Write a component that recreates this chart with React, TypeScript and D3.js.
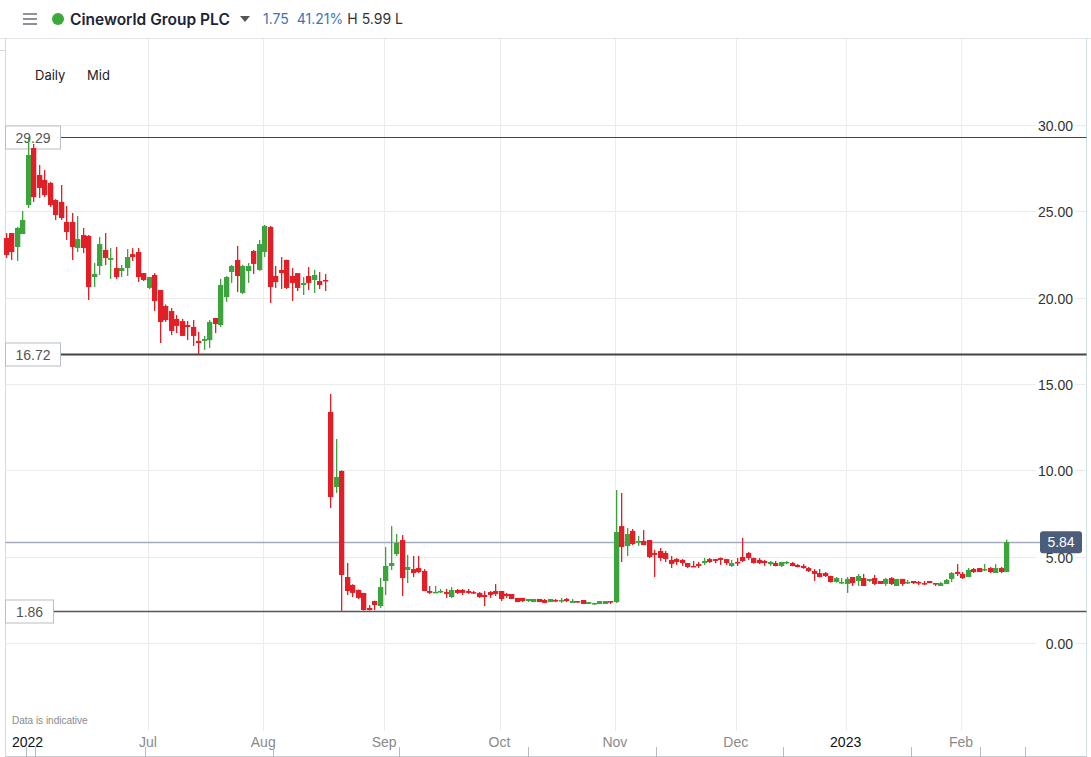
import * as d3 from "d3";

// daily OHLC, index 0 = early June 2022, last = 13 Feb 2023
const opens = [
  23.45, 23.74, 22.93, 23.68, 25.36, 28.66, 27.10, 26.81, 26.64, 25.65,
  25.54, 24.38, 24.38, 22.87, 23.62, 23.57, 21.19, 21.83, 22.76, 22.18,
  21.71, 21.54, 21.71, 22.52, 22.64, 21.42, 20.56, 21.31, 20.44, 19.51,
  19.22, 18.76, 18.64, 18.41, 18.30, 17.49, 17.49, 17.54, 18.82, 18.41,
  20.03, 21.48, 22.18, 20.27, 21.54, 22.70, 21.60, 22.64, 24.09, 21.25,
  21.60, 22.18, 21.25, 21.42, 20.73, 21.25, 21.02, 20.96, 21.02, 13.38,
  9.03, 9.96, 3.82, 3.36, 3.07, 2.90, 2.03, 2.43, 2.14, 3.59,
  4.46, 5.15, 5.96, 4.23, 4.28, 4.34, 4.17, 3.01, 2.93, 2.95,
  2.95, 2.66, 3.07, 3.07, 3.01, 2.95, 2.90, 2.78, 2.95, 3.01,
  3.01, 2.84, 2.84, 2.61, 2.61, 2.43, 2.37, 2.55, 2.49, 2.37,
  2.49, 2.43, 2.55, 2.32, 2.43, 2.49, 2.26, 2.26, 2.26, 2.26,
  2.43, 2.37, 6.77, 5.62, 6.49, 5.85, 5.91, 5.96, 5.21, 5.33,
  5.21, 4.81, 4.86, 4.81, 4.63, 4.46, 4.57, 4.63, 4.86, 4.86,
  4.92, 4.86, 4.46, 4.69, 4.98, 5.21, 4.92, 4.81, 4.75, 4.57,
  4.63, 4.46, 4.63, 4.63, 4.52, 4.46, 4.34, 4.17, 4.05, 4.05,
  3.88, 3.53, 3.47, 3.42, 3.82, 3.59, 3.76, 3.59, 3.76, 3.59,
  3.42, 3.76, 3.30, 3.71, 3.47, 3.59, 3.53, 3.47, 3.59, 3.47,
  3.30, 3.42, 3.71, 4.11, 4.00, 3.82, 4.28, 4.34, 4.23, 4.34,
  4.05, 4.34, 4.11,
];
const highs = [
  23.74, 23.74, 24.09, 25.01, 29.29, 28.90, 27.68, 27.39, 26.70, 25.70,
  26.52, 25.30, 24.90, 24.72, 24.03, 23.62, 22.00, 23.51, 23.74, 22.87,
  22.93, 21.89, 22.81, 22.87, 22.87, 21.42, 21.20, 21.42, 20.44, 19.60,
  19.40, 18.99, 18.76, 18.64, 18.70, 18.01, 17.78, 18.70, 18.82, 21.08,
  21.25, 21.89, 22.99, 21.90, 22.00, 22.75, 23.34, 24.20, 24.15, 21.83,
  22.35, 22.20, 21.71, 21.42, 21.19, 21.77, 21.60, 21.48, 21.37, 14.42,
  11.81, 10.00, 4.63, 3.40, 3.10, 2.90, 2.20, 2.45, 3.76, 5.56,
  6.77, 6.31, 6.25, 5.10, 5.04, 5.04, 4.28, 3.30, 3.30, 3.13,
  3.13, 3.24, 3.13, 3.13, 3.13, 3.01, 2.95, 3.01, 3.01, 3.42,
  3.01, 2.90, 2.84, 2.61, 2.61, 2.55, 2.55, 2.55, 2.55, 2.55,
  2.55, 2.61, 2.61, 2.55, 2.43, 2.49, 2.37, 2.32, 2.43, 2.43,
  2.43, 8.86, 8.69, 6.66, 6.60, 6.20, 6.54, 5.96, 5.39, 5.50,
  5.33, 5.04, 4.92, 4.86, 4.63, 4.75, 4.69, 4.92, 4.92, 4.86,
  4.95, 4.86, 4.81, 4.92, 6.08, 5.27, 4.95, 4.92, 4.81, 4.75,
  4.75, 4.70, 4.75, 4.69, 4.57, 4.57, 4.40, 4.28, 4.28, 4.11,
  3.90, 3.82, 3.76, 3.82, 3.82, 4.00, 4.00, 3.71, 3.94, 3.59,
  3.76, 3.82, 3.71, 3.71, 3.65, 3.59, 3.59, 3.59, 3.59, 3.47,
  3.53, 3.71, 4.11, 4.57, 4.11, 4.34, 4.34, 4.34, 4.57, 4.40,
  4.57, 4.40, 5.99,
];
const lows = [
  22.29, 22.18, 22.12, 23.68, 25.19, 25.54, 25.77, 25.82, 25.25, 24.49,
  24.49, 23.34, 22.18, 22.64, 22.58, 19.86, 20.61, 21.31, 21.89, 21.08,
  21.08, 21.19, 21.25, 22.12, 20.90, 20.96, 20.50, 19.22, 17.37, 18.60,
  17.83, 17.95, 17.78, 17.54, 17.20, 16.72, 16.97, 17.08, 17.95, 18.30,
  19.75, 20.85, 20.32, 20.20, 20.85, 21.37, 21.55, 22.35, 19.69, 20.56,
  20.50, 20.50, 19.80, 20.38, 20.15, 20.44, 20.27, 20.50, 20.38, 7.82,
  8.69, 1.86, 2.78, 2.66, 2.55, 1.88, 1.88, 1.90, 2.03, 2.78,
  4.23, 5.04, 2.72, 3.47, 3.82, 4.05, 3.00, 2.84, 2.90, 2.90,
  2.61, 2.61, 2.84, 2.78, 2.84, 2.84, 2.61, 2.14, 2.61, 2.72,
  2.43, 2.61, 2.55, 2.37, 2.37, 2.37, 2.37, 2.37, 2.32, 2.37,
  2.37, 2.32, 2.37, 2.32, 2.32, 2.26, 2.26, 2.20, 2.26, 2.26,
  2.26, 2.32, 4.69, 5.04, 5.67, 5.62, 5.67, 4.92, 3.82, 4.75,
  4.69, 4.34, 4.52, 4.46, 4.34, 4.40, 4.34, 4.52, 4.63, 4.63,
  4.52, 4.52, 4.40, 4.46, 4.69, 4.81, 4.60, 4.57, 4.46, 4.46,
  4.44, 4.40, 4.57, 4.44, 4.38, 4.30, 4.11, 3.59, 3.80, 3.82,
  3.50, 3.50, 3.42, 2.90, 3.30, 3.30, 3.30, 3.53, 3.36, 3.42,
  3.30, 3.36, 3.30, 3.30, 3.42, 3.42, 3.36, 3.36, 3.47, 3.30,
  3.30, 3.42, 3.53, 3.88, 3.71, 3.82, 4.05, 4.11, 4.17, 4.05,
  4.05, 4.05, 4.11,
];
const closes = [
  22.47, 22.64, 24.03, 24.49, 28.26, 25.82, 26.35, 25.94, 25.36, 24.78,
  24.61, 23.80, 22.93, 23.39, 22.87, 20.61, 21.37, 23.10, 22.29, 22.29,
  21.19, 21.71, 22.35, 22.35, 21.19, 21.02, 21.19, 19.80, 18.59, 18.70,
  18.07, 18.36, 17.78, 18.30, 17.78, 17.37, 17.60, 18.59, 18.47, 20.73,
  21.19, 21.83, 21.25, 21.83, 21.83, 21.95, 23.10, 24.15, 20.61, 20.90,
  21.42, 20.56, 20.85, 20.56, 20.85, 20.85, 21.31, 20.73, 20.96, 8.45,
  9.61, 3.94, 3.01, 2.90, 2.61, 1.91, 1.91, 2.20, 3.24, 4.46,
  4.63, 5.79, 3.76, 4.40, 4.05, 4.11, 3.01, 2.90, 2.96, 3.01,
  2.84, 3.07, 2.90, 2.90, 2.90, 2.90, 2.66, 2.66, 2.78, 2.84,
  2.55, 2.72, 2.55, 2.37, 2.43, 2.55, 2.55, 2.37, 2.32, 2.55,
  2.43, 2.49, 2.43, 2.43, 2.37, 2.26, 2.37, 2.32, 2.43, 2.43,
  2.37, 6.43, 5.56, 6.31, 5.73, 5.91, 5.67, 4.98, 5.10, 4.92,
  4.86, 4.57, 4.69, 4.63, 4.40, 4.40, 4.46, 4.75, 4.69, 4.75,
  4.81, 4.63, 4.63, 4.63, 4.75, 4.92, 4.63, 4.63, 4.63, 4.69,
  4.46, 4.69, 4.69, 4.46, 4.40, 4.34, 4.17, 4.00, 3.82, 3.88,
  3.53, 3.76, 3.53, 3.71, 3.47, 3.88, 3.30, 3.71, 3.42, 3.42,
  3.71, 3.42, 3.71, 3.42, 3.53, 3.47, 3.50, 3.42, 3.47, 3.42,
  3.47, 3.65, 4.05, 4.00, 3.76, 4.23, 4.11, 4.11, 4.28, 4.11,
  4.34, 4.11, 5.84,
];

const monthLabels = ["Jul", "Aug", "Sep", "Oct", "Nov", "Dec", "2023", "Feb"];
const monthIndex = [26, 47, 69, 90, 111, 133, 153, 174];
const yTicks = [0, 5, 10, 15, 20, 25, 30];
const refLevels = [29.29, 16.72, 1.86];
const lastPrice = 5.84;

const UP = "#3da33d";
const DOWN = "#e21f26";
const AXIS_FONT = "'Liberation Sans', Arial, sans-serif";
const UI_FONT = "Inter, 'Open Sans', sans-serif";

export default function App() {
  const width = 1091;
  const height = 757;
  const left = 5.5;
  const right = 1086.5;

  const x = d3.scaleLinear().domain([0, opens.length - 1]).range([6, 1006]);
  const y = d3.scaleLinear().domain([0, 30]).range([643, 124.9]);

  const refStyle = [
    { boxW: 55, stroke: "#444", sw: 1 },
    { boxW: 55, stroke: "#444", sw: 2 },
    { boxW: 48, stroke: "#555", sw: 1.5 },
  ];

  return (
    <svg
      width={width}
      height={height}
      style={{ position: "absolute", left: 0, top: 0, background: "#fff" }}
    >
      {/* header */}
      <line x1={0} x2={width} y1={38.5} y2={38.5} stroke="#e1e5ea" />
      {[14, 19, 24].map((yy) => (
        <line key={yy} x1={23} x2={37} y1={yy} y2={yy} stroke="#6b6b78" strokeWidth={1.5} />
      ))}
      <circle cx={58} cy={19} r={6} fill="#3aa83a" />
      <text x={70} y={25} fontFamily={UI_FONT} fontWeight={600} fontSize={15.5} fill="#1d2433">
        Cineworld Group PLC
      </text>
      <path d="M240,16 L250,16 L245,22 Z" fill="#555" />
      <text x={263} y={24} fontFamily={UI_FONT} fontSize={14} fill="#3c76b6">
        1.75
        <tspan dx={8}>41.21%</tspan>
        <tspan dx={4} fill="#333">H 5.99 L</tspan>
      </text>

      {/* frame */}
      <line x1={left} x2={left} y1={38} y2={height} stroke="#d4d9de" />
      <line x1={0} x2={left} y1={50.5} y2={50.5} stroke="#d4d9de" />
      <line x1={right} x2={right} y1={38} y2={height} stroke="#cfe1e1" />

      <text x={35} y={80} fontFamily={UI_FONT} fontSize={13} fill="#222">Daily</text>
      <text x={87} y={80} fontFamily={UI_FONT} fontSize={13} fill="#222">Mid</text>

      {/* vertical grid */}
      {monthIndex.map((m) => (
        <line key={m} x1={Math.round(x(m)) - 1 + 0.5} x2={Math.round(x(m)) - 1 + 0.5} y1={39} y2={731} stroke="#ececec" />
      ))}

      {/* horizontal grid + right axis */}
      {yTicks.map((t) => {
        const yy = Math.round(y(t)) + 0.5;
        return (
          <g key={t}>
            <line x1={left} x2={right} y1={yy} y2={yy} stroke="#ebebeb" />
            <rect x={1036} y={yy - 9} width={39} height={18} fill="#fff" />
            <text x={1073} y={yy + 5} textAnchor="end" fontFamily={AXIS_FONT} fontSize={14} fill="#333">
              {t.toFixed(2)}
            </text>
          </g>
        );
      })}

      {/* reference levels */}
      {refLevels.map((v, i) => {
        const yy = Math.round(y(v)) + 0.5;
        const s = refStyle[i];
        return (
          <g key={v}>
            <line x1={left + s.boxW} x2={right} y1={yy} y2={yy} stroke={s.stroke} strokeWidth={s.sw} />
            <rect x={left} y={yy - 11.5} width={s.boxW} height={23} fill="#fff" stroke="#b9bdc5" />
            <text x={left + s.boxW / 2} y={yy + 5} textAnchor="middle" fontFamily={AXIS_FONT} fontSize={14} fill="#555">
              {v.toFixed(2)}
            </text>
          </g>
        );
      })}

      {/* last price line */}
      <line x1={left} x2={1040} y1={Math.round(y(lastPrice)) + 0.5} y2={Math.round(y(lastPrice)) + 0.5} stroke="#a3aabb" strokeWidth={1.5} />

      {/* candles */}
      {opens.map((o, i) => {
        const c = closes[i];
        const cx = Math.round(x(i));
        const color = c >= o ? UP : DOWN;
        const top = y(Math.max(o, c));
        const h = Math.max(1.5, Math.abs(y(o) - y(c)));
        return (
          <g key={i}>
            <rect x={cx} y={y(highs[i])} width={1.3} height={y(lows[i]) - y(highs[i])} fill={color} />
            <rect x={cx - 2} y={top} width={5.3} height={h} fill={color} />
          </g>
        );
      })}

      {/* last price label */}
      <rect x={1040} y={y(lastPrice) - 11} width={42} height={22} rx={3} fill="#4b5d7a" />
      <text x={1061} y={y(lastPrice) + 5} textAnchor="middle" fontFamily={AXIS_FONT} fontSize={14} fill="#fff">
        {lastPrice.toFixed(2)}
      </text>

      {/* x axis */}
      <text x={12} y={724} fontFamily={AXIS_FONT} fontSize={10} fill="#8a8a8a">Data is indicative</text>
      <text x={12} y={747} fontFamily={AXIS_FONT} fontSize={14} fill="#111">2022</text>
      {monthLabels.map((lab, i) => (
        <text
          key={lab}
          x={x(monthIndex[i]) - 1}
          y={747}
          textAnchor="middle"
          fontFamily={AXIS_FONT}
          fontSize={14}
          fill={/^\d/.test(lab) ? "#111" : "#8a8a8a"}
        >
          {lab}
        </text>
      ))}

      {/* navigator strip */}
      <line x1={left} x2={right} y1={756.5} y2={756.5} stroke="#c6cad3" />
      {[26, 35, 145, 273, 399, 528, 656, 783, 911, 980, 1025].map((tx) => (
        <line key={tx} x1={tx + 0.5} x2={tx + 0.5} y1={747} y2={757} stroke="#b5bac4" />
      ))}
    </svg>
  );
}
